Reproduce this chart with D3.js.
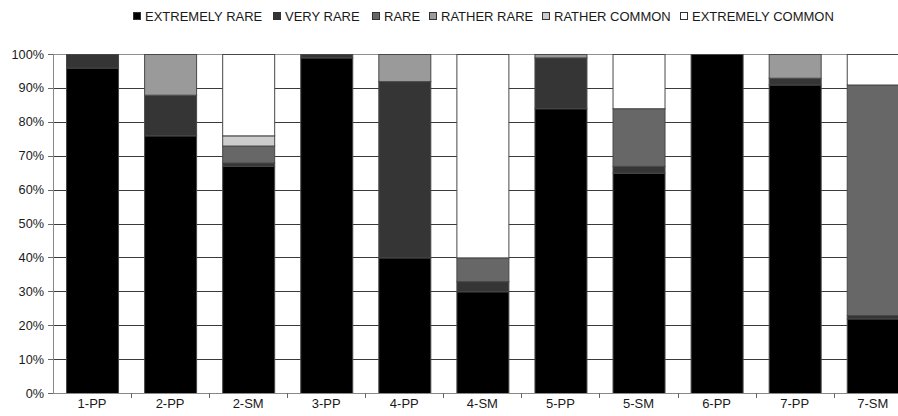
<!DOCTYPE html>
<html>
<head>
<meta charset="utf-8">
<script src="https://cdn.jsdelivr.net/npm/d3@7/dist/d3.min.js"></script>
<style>
  html, body { margin: 0; padding: 0; background: #fff; }
  svg { display: block; font-family: "Liberation Sans", Arial, sans-serif; }
</style>
</head>
<body>
<svg id="chart" width="898" height="416"></svg>
<script>
const categories = ["1-PP","2-PP","2-SM","3-PP","4-PP","4-SM","5-PP","5-SM","6-PP","7-PP","7-SM"];
const seriesNames = ["EXTREMELY RARE","VERY RARE","RARE","RATHER RARE","RATHER COMMON","EXTREMELY COMMON"];
const extremelyRare   = [96, 76, 67, 99, 40, 30, 84, 65, 100, 91, 22];
const veryRare        = [ 4, 12,  1,  1, 52,  3, 15,  2,   0,  2,  1];
const rare            = [ 0,  0,  5,  0,  0,  7,  0, 17,   0,  0, 68];
const ratherRare      = [ 0, 12,  0,  0,  8,  0,  1,  0,   0,  7,  0];
const ratherCommon    = [ 0,  0,  3,  0,  0,  0,  0,  0,   0,  0,  0];
const extremelyCommon = [ 0,  0, 24,  0,  0, 60,  0, 16,   0,  0,  9];
const yTicks = [0,10,20,30,40,50,60,70,80,90,100];

const seriesValues = [extremelyRare, veryRare, rare, ratherRare, ratherCommon, extremelyCommon];
const colors = ["#000000","#353535","#676767","#9a9a9a","#cdcdcd","#ffffff"];

const table = categories.map((c, i) => {
  const row = { cat: c };
  seriesNames.forEach((s, k) => row[s] = seriesValues[k][i]);
  return row;
});

const svg = d3.select("#chart");
const plotLeft = 53, plotTop = 54, plotBottom = 393, plotRight = 898;
const step = 78.07;
const x = d3.scaleBand().domain(categories).range([plotLeft, plotLeft + step * categories.length]).paddingInner(0.334).paddingOuter(0.167);
const y = d3.scaleLinear().domain([0, 100]).range([plotBottom, plotTop]);

// gridlines
svg.append("g").selectAll("line").data(yTicks.filter(t => t > 0 && t < 100)).join("line")
  .attr("x1", plotLeft).attr("x2", plotRight)
  .attr("y1", d => Math.round(y(d)) + 0.5).attr("y2", d => Math.round(y(d)) + 0.5)
  .attr("stroke", "#3a3a3a").attr("stroke-width", 1);

// top frame line
svg.append("line").attr("x1", plotLeft).attr("x2", plotRight)
  .attr("y1", Math.round(y(100)) + 0.5).attr("y2", Math.round(y(100)) + 0.5)
  .attr("stroke", "#909090");

// bars
const stacked = d3.stack().keys(seriesNames)(table);
svg.append("g").selectAll("g").data(stacked).join("g")
  .attr("fill", (d, i) => colors[i])
  .selectAll("rect").data(d => d.filter(p => p[1] - p[0] > 0)).join("rect")
  .attr("x", d => x(d.data.cat) + 0.5)
  .attr("width", x.bandwidth())
  .attr("y", d => y(d[1]) + 0.5)
  .attr("height", d => y(d[0]) - y(d[1]))
  .attr("stroke", "#484848").attr("stroke-width", 1);

// y axis line
svg.append("line").attr("x1", plotLeft + 0.5).attr("x2", plotLeft + 0.5)
  .attr("y1", plotTop).attr("y2", plotBottom)
  .attr("stroke", "#888");
// x axis line
svg.append("line").attr("x1", plotLeft).attr("x2", plotRight)
  .attr("y1", plotBottom + 0.5).attr("y2", plotBottom + 0.5)
  .attr("stroke", "#888");

// y ticks and labels
const yg = svg.append("g");
yg.selectAll("line").data(yTicks).join("line")
  .attr("x1", plotLeft - 5).attr("x2", plotLeft)
  .attr("y1", d => Math.round(y(d)) + 0.5).attr("y2", d => Math.round(y(d)) + 0.5)
  .attr("stroke", "#666");
yg.selectAll("text").data(yTicks).join("text")
  .attr("x", 44).attr("y", d => y(d)).attr("dy", "0.36em")
  .attr("text-anchor", "end").attr("font-size", "12.7px").attr("fill", "#1a1a1a")
  .text(d => d + "%");

// x boundary ticks
const boundaries = categories.map(c => x(c) - x.step() * x.paddingInner() / 2);
svg.append("g").selectAll("line").data(boundaries.slice(1)).join("line")
  .attr("x1", d => Math.round(d) + 0.5).attr("x2", d => Math.round(d) + 0.5)
  .attr("y1", plotBottom).attr("y2", plotBottom + 5)
  .attr("stroke", "#666");

// x labels
svg.append("g").selectAll("text").data(categories).join("text")
  .attr("x", d => x(d) + x.bandwidth() / 2).attr("y", 408)
  .attr("text-anchor", "middle").attr("font-size", "13px").attr("fill", "#1a1a1a")
  .text(d => d);

// legend
const legendX = [133, 273, 372, 429, 542, 680];
const lg = svg.append("g").selectAll("g").data(seriesNames).join("g")
  .attr("transform", (d, i) => `translate(${legendX[i]},0)`);
lg.append("rect").attr("x", 0.5).attr("y", 12.5).attr("width", 7).attr("height", 7)
  .attr("fill", (d, i) => colors[i]).attr("stroke", "#333");
lg.append("text").attr("x", 12).attr("y", 20.8)
  .attr("font-size", "13px").attr("fill", "#1a1a1a").text(d => d);
</script>
</body>
</html>
